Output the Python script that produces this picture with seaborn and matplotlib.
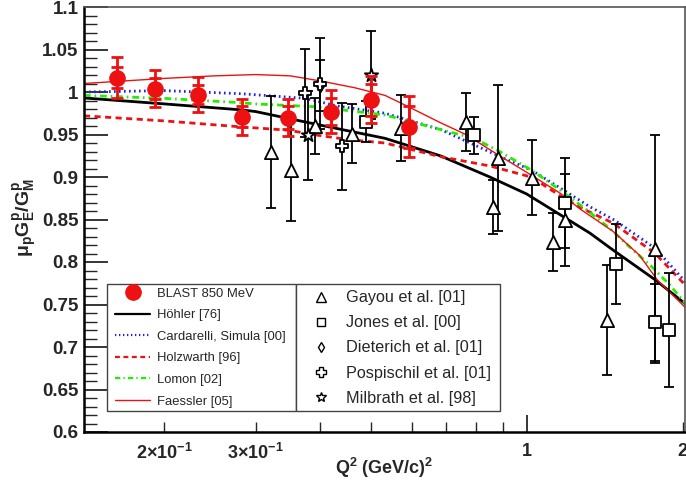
import numpy as np
import pandas as pd
import matplotlib
matplotlib.use("Agg")
import matplotlib.pyplot as plt
import seaborn as sns
from matplotlib.ticker import FixedLocator, MultipleLocator, FixedFormatter
from matplotlib.lines import Line2D
from matplotlib.patches import Rectangle

# ---------------- data ----------------
blast_q2 = [0.162, 0.192, 0.232, 0.283, 0.346, 0.420, 0.501, 0.593]
blast_r = [1.017, 1.004, 0.997, 0.971, 0.970, 0.977, 0.991, 0.959]
blast_tot = [0.024, 0.022, 0.021, 0.021, 0.022, 0.025, 0.028, 0.036]
blast_stat = [0.012, 0.012, 0.011, 0.012, 0.013, 0.016, 0.019, 0.025]

gayou_q2 = [0.321, 0.351, 0.391, 0.461, 0.572, 0.763, 0.881, 0.862, 1.022, 1.125, 1.186, 1.426, 1.766]
gayou_r = [0.929, 0.908, 0.960, 0.951, 0.958, 0.965, 0.922, 0.865, 0.899, 0.824, 0.849, 0.732, 0.815]
gayou_err = [0.066, 0.060, 0.033, 0.035, 0.039, 0.034, 0.086, 0.032, 0.044, 0.034, 0.054, 0.065, 0.134]

jones_q2 = [0.490, 0.791, 1.186, 1.484, 1.770, 1.880]
jones_r = [0.965, 0.949, 0.869, 0.798, 0.729, 0.720]
jones_err = [0.024, 0.022, 0.053, 0.047, 0.045, 0.067]

dieterich_q2 = [0.400]
dieterich_r = [1.008]
dieterich_err = [0.030]

posp_q2 = [0.373, 0.400, 0.441]
posp_r = [0.999, 1.010, 0.936]
posp_err = [0.052, 0.053, 0.051]

milb_q2 = [0.379, 0.500]
milb_r = [0.949, 1.020]
milb_err = [0.052, 0.052]

hohler_q2 = [0.14, 0.2, 0.281, 0.3, 0.4, 0.533, 0.681, 0.849, 1.0, 1.324, 1.468, 1.77, 2.05]
hohler_r = [0.993, 0.986, 0.979, 0.977, 0.961, 0.9455, 0.925, 0.900, 0.880, 0.834, 0.814, 0.779, 0.748]

card_q2 = [0.14, 0.2, 0.281, 0.373, 0.432, 0.533, 0.681, 0.881, 1.022, 1.186, 1.324, 1.48, 1.77, 2.05]
card_r = [1.000, 1.0016, 0.998, 0.9926, 0.9835, 0.975, 0.956, 0.925, 0.908, 0.8835, 0.865, 0.849, 0.816, 0.773]

holz_q2 = [0.14, 0.2, 0.281, 0.347, 0.397, 0.453, 0.533, 0.681, 0.849, 1.02, 1.16, 1.27, 1.47, 1.77, 2.05]
holz_r = [0.972, 0.966, 0.959, 0.955, 0.949, 0.944, 0.940, 0.924, 0.913, 0.900, 0.878, 0.864, 0.8455, 0.810, 0.769]

lomon_q2 = [0.14, 0.2, 0.281, 0.299, 0.391, 0.533, 0.681, 0.791, 0.881, 1.022, 1.16, 1.295, 1.446, 1.604, 1.742, 1.888, 2.05]
lomon_r = [0.996, 0.9925, 0.9874, 0.986, 0.9827, 0.973, 0.956, 0.9455, 0.931, 0.908, 0.8847, 0.863, 0.8396, 0.814, 0.7945, 0.773, 0.747]

faes_q2 = [0.14, 0.2, 0.25, 0.3, 0.35, 0.4, 0.466, 0.533, 0.59, 0.681, 0.763, 0.881, 1.022, 1.16, 1.27, 1.468, 1.65, 1.786, 2.05]
faes_r = [1.010, 1.016, 1.019, 1.0205, 1.019, 1.013, 1.005, 0.996, 0.983, 0.964, 0.950, 0.926, 0.902, 0.881, 0.862, 0.836, 0.808, 0.779, 0.743]

xticks_major = [1.0]
xticks_minor = [0.2, 0.3, 0.4, 0.5, 0.6, 0.7, 0.8, 0.9, 2.0]
xminor_labels = [r'$2{\times}10^{-1}$', r'$3{\times}10^{-1}$', '', '', '', '', '', '', '2']

# ---------------- style ----------------
sns.set_style("ticks")
plt.rcParams['font.family'] = ['Liberation Sans', 'DejaVu Sans']
plt.rcParams['mathtext.fontset'] = 'custom'
plt.rcParams['mathtext.rm'] = 'Liberation Sans:bold'
plt.rcParams['mathtext.it'] = 'Liberation Sans:bold'
plt.rcParams['mathtext.bf'] = 'Liberation Sans:bold'
plt.rcParams['mathtext.default'] = 'rm'

fig = plt.figure(figsize=(6.86, 4.91), dpi=100)
ax = fig.add_axes([84/686, 59/491, 601/686, 425/491])

# ---------------- curves ----------------
curves = [
    (hohler_q2, hohler_r, 'Höhler [76]', dict(color='black', lw=2.0, ls='-')),
    (card_q2, card_r, 'Cardarelli, Simula [00]', dict(color='#2020ee', lw=2.0, ls=(0, (0.6, 1.2)))),
    (holz_q2, holz_r, 'Holzwarth [96]', dict(color='#ee1111', lw=2.0, ls=(0, (2.2, 1.6)))),
    (lomon_q2, lomon_r, 'Lomon [02]', dict(color='#22ee00', lw=2.0, ls=(0, (2.4, 1.4, 0.6, 1.4)))),
    (faes_q2, faes_r, 'Faessler [05]', dict(color='#ee1111', lw=1.0, ls='-')),
]
for q, r, lab, st in curves:
    df = pd.DataFrame({'Q2': q, 'R': r})
    sns.lineplot(data=df, x='Q2', y='R', ax=ax, sort=False, estimator=None,
                 color=st['color'], lw=st['lw'], linestyle=st['ls'], legend=False, zorder=2)

# ---------------- other data sets ----------------
others = [
    (gayou_q2, gayou_r, gayou_err, '^', 9.5),
    (jones_q2, jones_r, jones_err, 's', 8),
    (dieterich_q2, dieterich_r, dieterich_err, 'd', 7),
    (posp_q2, posp_r, posp_err, 'P', 9),
    (milb_q2, milb_r, milb_err, '*', 10),
]
for q, r, e, m, ms in others:
    ax.errorbar(q, r, yerr=e, fmt='none', ecolor='black', elinewidth=1.3,
                capsize=3.5, capthick=1.3, zorder=3)
    df = pd.DataFrame({'Q2': q, 'R': r})
    sns.scatterplot(data=df, x='Q2', y='R', ax=ax, marker=m, s=ms**2,
                    facecolor='white', edgecolor='black', linewidth=1.3, zorder=4, legend=False)

# ---------------- BLAST ----------------
ax.errorbar(blast_q2, blast_r, yerr=blast_tot, fmt='none', ecolor='#ee1111', elinewidth=2,
            capsize=4, capthick=2, zorder=5)
ax.errorbar(blast_q2, blast_r, yerr=blast_stat, fmt='none', ecolor='#ee1111', elinewidth=2,
            capsize=4, capthick=2, zorder=5)
bdf = pd.DataFrame({'Q2': blast_q2, 'R': blast_r})
sns.scatterplot(data=bdf, x='Q2', y='R', ax=ax, marker='o', s=12**2, color='#ee1111',
                edgecolor='#ee1111', linewidth=0, zorder=6, legend=False)

# ---------------- axes ----------------
ax.set_xscale('log')
ax.set_xlim(0.14, 2.02)
ax.set_ylim(0.6, 1.1)
ax.xaxis.set_major_locator(FixedLocator(xticks_major))
ax.xaxis.set_major_formatter(FixedFormatter(['1']))
ax.xaxis.set_minor_locator(FixedLocator(xticks_minor))
ax.xaxis.set_minor_formatter(FixedFormatter(xminor_labels))
ax.yaxis.set_major_locator(MultipleLocator(0.05))
ax.yaxis.set_minor_locator(MultipleLocator(0.01))
ax.yaxis.set_major_formatter(matplotlib.ticker.FuncFormatter(lambda v, p: ('%.2f' % v).rstrip('0').rstrip('.')))

ax.tick_params(axis='y', which='major', direction='in', length=17, width=1.3, left=True, right=False,
               labelsize=13.5, pad=4)
ax.tick_params(axis='y', which='minor', direction='in', length=9, width=1.0, left=True, right=False)
ax.tick_params(axis='x', which='major', direction='in', length=12, width=1.3, bottom=True, top=False,
               labelsize=13, pad=8)
ax.tick_params(axis='x', which='minor', direction='in', length=7, width=1.0, bottom=True, top=False,
               labelsize=13, pad=8)
for lbl in ax.get_yticklabels() + ax.get_xticklabels() + ax.get_xticklabels(minor=True):
    lbl.set_fontweight('bold')
for sp in ['left', 'bottom']:
    ax.spines[sp].set_linewidth(1.8)
    ax.spines[sp].set_color('black')
for sp in ['top', 'right']:
    ax.spines[sp].set_linewidth(1.2)
    ax.spines[sp].set_color('#555555')

ax.set_xlabel(r'$Q^{2}$ (GeV/c)$^{2}$', fontsize=13, fontweight='bold', labelpad=-5)
ax.set_ylabel(r'$\mu_{p}G^{p}_{E}/G^{p}_{M}$', fontsize=14, labelpad=2)
ax.yaxis.set_label_coords(-0.075, 0.505)

# ---------------- legends ----------------
ax.add_patch(Rectangle((0.0378, 0.050), 0.3149, 0.298, transform=ax.transAxes, fill=True,
                       facecolor='white', edgecolor='#444444', lw=1.0, zorder=7))
ax.add_patch(Rectangle((0.3527, 0.050), 0.3393, 0.298, transform=ax.transAxes, fill=True,
                       facecolor='white', edgecolor='#444444', lw=1.0, zorder=7))

h_left = [Line2D([], [], marker='o', ls='none', color='#ee1111', ms=11)]
for q, r, lab, st in curves:
    h_left.append(Line2D([], [], color=st['color'], lw=st['lw'] if st['lw'] < 2 else 1.6, linestyle=st['ls']))
labels_left = ['BLAST 850 MeV'] + [c[2] for c in curves]
legL = ax.legend(h_left, labels_left, loc='upper left', bbox_to_anchor=(0.034, 0.364),
                 frameon=False, fontsize=9.4, handlelength=2.7, handletextpad=0.5,
                 labelspacing=0.72, borderpad=0.3)
legL.set_zorder(8)
ax.add_artist(legL)

h_right = [Line2D([], [], marker=m, ls='none', mfc='white', mec='black', mew=1.0, ms=ms * 0.75)
           for (_, _, _, m, ms) in others]
labels_right = ['Gayou et al. [01]', 'Jones et al. [00]', 'Dieterich et al. [01]',
                'Pospischil et al. [01]', 'Milbrath et al. [98]']
legR = ax.legend(h_right, labels_right, loc='upper left', bbox_to_anchor=(0.352, 0.364),
                 frameon=False, fontsize=11.7, handlelength=1.5, handletextpad=0.8,
                 labelspacing=0.62, borderpad=0.3)
legR.set_zorder(8)

fig.savefig('out.png', dpi=100)
